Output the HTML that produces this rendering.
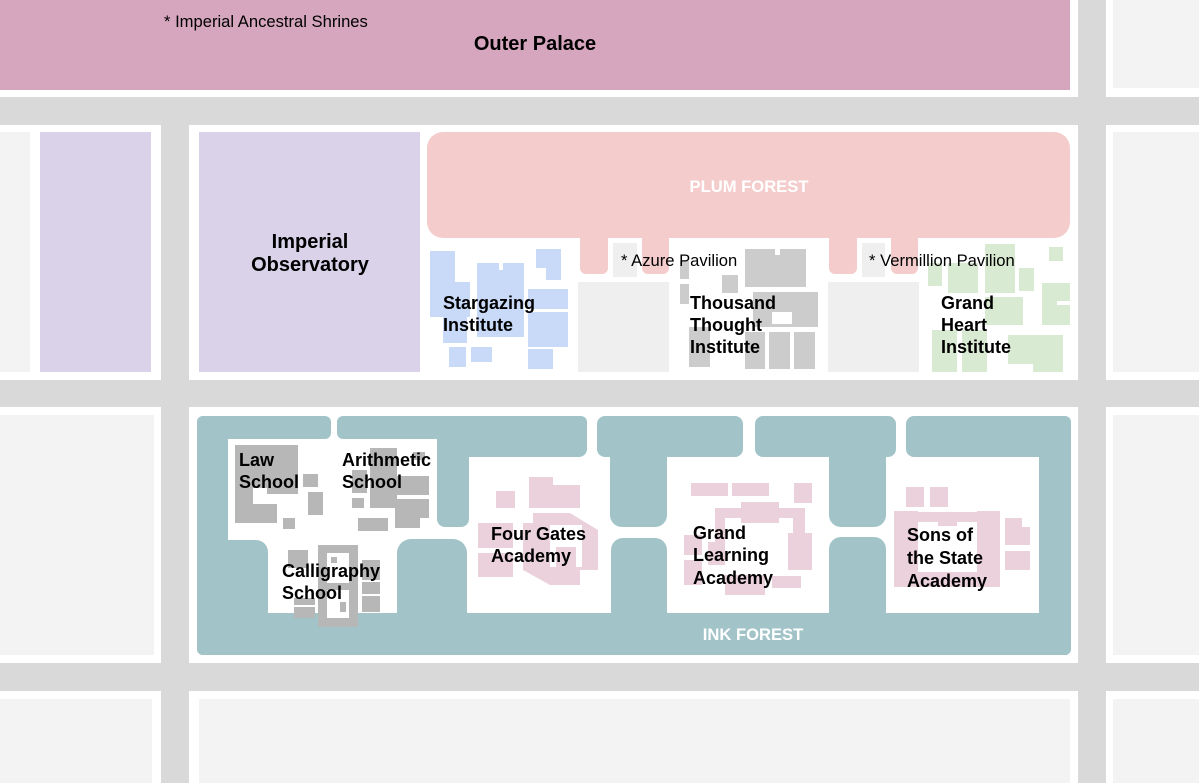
<!DOCTYPE html>
<html><head><meta charset="utf-8"><style>
html,body{margin:0;padding:0;background:#fff;}
svg{display:block;}
text{font-family:"Liberation Sans",Arial,sans-serif;}
.b{font-weight:bold;font-size:18px;fill:#000;}
</style></head><body>
<svg width="1199" height="783" viewBox="0 0 1199 783" xmlns="http://www.w3.org/2000/svg">
<rect x="0" y="0" width="1199" height="783" fill="#fff"/>
<!-- roads -->
<g fill="#d9d9d9">
<rect x="0" y="97" width="1199" height="28"/>
<rect x="0" y="380" width="1199" height="27"/>
<rect x="0" y="663" width="1199" height="28"/>
<rect x="161" y="97" width="28" height="686"/>
<rect x="1078" y="0" width="28" height="783"/>
</g>
<!-- outer gray blocks -->
<g fill="#f3f3f3">
<rect x="1113" y="0" width="86" height="88"/>
<rect x="0" y="132" width="30" height="240"/>
<rect x="1113" y="132" width="86" height="240"/>
<rect x="0" y="415" width="154" height="240"/>
<rect x="1113" y="415" width="86" height="240"/>
<rect x="0" y="699" width="152" height="84"/>
<rect x="199" y="699" width="871" height="84"/>
<rect x="1113" y="699" width="86" height="84"/>
</g>
<!-- outer palace -->
<rect x="0" y="0" width="1070" height="90" fill="#d5a6bd"/>
<!-- lavender -->
<rect x="40" y="132" width="111" height="240" fill="#d9d2e9"/>
<rect x="199" y="132" width="221" height="240" fill="#d9d2e9"/>
<!-- plum forest -->
<g fill="#f4cccc">
<rect x="427" y="132" width="643" height="106" rx="16"/>
<rect x="580" y="225" width="28" height="49" rx="6"/>
<rect x="642" y="225" width="27" height="49" rx="6"/>
<rect x="829" y="225" width="28" height="49" rx="6"/>
<rect x="891" y="225" width="27" height="49" rx="6"/>
</g>
<g fill="#efefef">
<rect x="613" y="243" width="24" height="34"/>
<rect x="862" y="243" width="23" height="34"/>
<rect x="578" y="282" width="91" height="90"/>
<rect x="828" y="282" width="91" height="90"/>
</g>
<!-- stargazing -->
<g fill="#c9daf8">
<rect x="430" y="251" width="25" height="66"/>
<rect x="430" y="282" width="40" height="35"/>
<rect x="443" y="317" width="24" height="26"/>
<rect x="477" y="263" width="47" height="74"/>
<rect x="536" y="249" width="25" height="19"/>
<rect x="546" y="249" width="15" height="31"/>
<rect x="528" y="289" width="40" height="20"/>
<rect x="528" y="312" width="40" height="35"/>
<rect x="528" y="349" width="25" height="20"/>
<rect x="449" y="347" width="17" height="20"/>
<rect x="471" y="347" width="21" height="15"/>
</g>
<rect x="499" y="263" width="4" height="7" fill="#fff"/>
<!-- thousand thought -->
<g fill="#cccccc">
<rect x="680" y="261" width="9" height="18"/>
<rect x="680" y="284" width="9" height="20"/>
<rect x="689" y="327" width="21" height="40"/>
<rect x="722" y="275" width="16" height="18"/>
<rect x="745" y="249" width="61" height="38"/>
<rect x="753" y="292" width="65" height="35"/>
<rect x="745" y="332" width="20" height="37"/>
<rect x="769" y="332" width="21" height="37"/>
<rect x="794" y="332" width="21" height="37"/>
</g>
<rect x="775" y="249" width="5" height="6" fill="#fff"/>
<rect x="772" y="312" width="20" height="12" fill="#fff"/>
<!-- grand heart -->
<g fill="#d9ead3">
<rect x="928" y="263" width="14" height="23"/>
<rect x="948" y="263" width="30" height="30"/>
<rect x="985" y="244" width="30" height="49"/>
<rect x="985" y="297" width="38" height="28"/>
<rect x="1019" y="268" width="15" height="23"/>
<rect x="1049" y="247" width="14" height="14"/>
<rect x="1042" y="283" width="28" height="42"/>
<rect x="932" y="330" width="25" height="42"/>
<rect x="962" y="330" width="25" height="42"/>
<rect x="1008" y="335" width="55" height="37"/>
</g>
<rect x="1057" y="301" width="13" height="4" fill="#fff"/>
<rect x="1008" y="364" width="25" height="8" fill="#fff"/>
<!-- ink forest -->
<g fill="#a2c4c9">
<rect x="197" y="416" width="31" height="239" rx="6"/>
<rect x="197" y="613" width="874" height="42" rx="6"/>
<rect x="197" y="416" width="134" height="23" rx="6"/>
<rect x="197" y="540" width="71" height="115" rx="12"/>
<rect x="397" y="539" width="70" height="116" rx="14"/>
<rect x="337" y="416" width="250" height="23" rx="6"/>
<rect x="437" y="416" width="150" height="41" rx="8"/>
<rect x="437" y="416" width="32" height="111" rx="8"/>
<rect x="597" y="416" width="146" height="41" rx="8"/>
<rect x="610" y="416" width="57" height="111" rx="12"/>
<rect x="611" y="538" width="56" height="117" rx="12"/>
<rect x="755" y="416" width="141" height="41" rx="8"/>
<rect x="829" y="416" width="57" height="111" rx="12"/>
<rect x="829" y="537" width="57" height="118" rx="12"/>
<rect x="906" y="416" width="165" height="41" rx="8"/>
<rect x="1039" y="416" width="32" height="239" rx="6"/>
</g>
<!-- law -->
<g fill="#b7b7b7">
<rect x="235" y="445" width="32" height="43"/>
<rect x="267" y="445" width="31" height="49"/>
<rect x="235" y="488" width="18" height="35"/>
<rect x="235" y="504" width="42" height="19"/>
<rect x="303" y="474" width="15" height="13"/>
<rect x="308" y="492" width="15" height="23"/>
<rect x="283" y="518" width="12" height="11"/>
<!-- arithmetic -->
<rect x="370" y="448" width="27" height="60"/>
<rect x="352" y="470" width="15" height="23"/>
<rect x="352" y="498" width="12" height="10"/>
<rect x="413" y="452" width="12" height="8"/>
<rect x="395" y="476" width="34" height="19"/>
<rect x="395" y="499" width="34" height="19"/>
<rect x="395" y="518" width="25" height="10"/>
<rect x="358" y="518" width="30" height="13"/>
<!-- calligraphy -->
<rect x="288" y="550" width="20" height="18"/>
<rect x="318" y="545" width="40" height="82"/>
<rect x="362" y="560" width="18" height="20"/>
<rect x="362" y="582" width="18" height="12"/>
<rect x="362" y="596" width="18" height="16"/>
<rect x="294" y="598" width="21" height="7"/>
<rect x="294" y="607" width="21" height="11"/>
</g>
<g fill="#fff">
<rect x="327" y="553" width="22" height="30"/>
<rect x="327" y="590" width="22" height="28"/>
</g>
<g fill="#b7b7b7">
<rect x="331" y="557" width="6" height="6"/>
<rect x="340" y="602" width="6" height="10"/>
</g>
<!-- four gates -->
<g fill="#ead1dc">
<rect x="496" y="491" width="19" height="17"/>
<rect x="529" y="477" width="24" height="31"/>
<rect x="553" y="485" width="27" height="23"/>
<rect x="478" y="523" width="35" height="25"/>
<rect x="478" y="553" width="35" height="24"/>
<polygon points="533,513 570,513 598,530 598,570 580,570 580,585 550,585 523,570 523,523 533,523"/>
</g>
<rect x="550" y="525" width="32" height="42" fill="#fff"/>
<rect x="556" y="547" width="20" height="20" fill="#ead1dc"/>
<!-- grand learning -->
<g fill="#ead1dc">
<rect x="691" y="483" width="37" height="13"/>
<rect x="732" y="483" width="37" height="13"/>
<rect x="794" y="483" width="18" height="20"/>
<rect x="741" y="502" width="38" height="21"/>
<rect x="715" y="508" width="90" height="10"/>
<rect x="715" y="508" width="10" height="54"/>
<rect x="793" y="508" width="12" height="25"/>
<rect x="788" y="533" width="24" height="37"/>
<rect x="684" y="535" width="18" height="20"/>
<rect x="684" y="560" width="18" height="25"/>
<rect x="708" y="542" width="17" height="23"/>
<rect x="725" y="575" width="40" height="20"/>
<rect x="772" y="576" width="29" height="12"/>
</g>
<!-- sons of state -->
<g fill="#ead1dc">
<rect x="906" y="487" width="18" height="20"/>
<rect x="930" y="487" width="18" height="20"/>
<rect x="894" y="511" width="24" height="76"/>
<rect x="977" y="511" width="23" height="76"/>
<rect x="918" y="512" width="59" height="10"/>
<rect x="938" y="512" width="19" height="14"/>
<rect x="918" y="572" width="59" height="15"/>
<rect x="1005" y="518" width="17" height="10"/>
<rect x="1005" y="527" width="25" height="18"/>
<rect x="1005" y="551" width="25" height="19"/>
</g>
<!-- labels -->
<text x="164" y="27" font-size="16.6" fill="#000">* Imperial Ancestral Shrines</text>
<text x="535" y="50" font-size="20" font-weight="bold" fill="#000" text-anchor="middle">Outer Palace</text>
<text x="310" y="248" font-size="20" font-weight="bold" fill="#000" text-anchor="middle">Imperial</text>
<text x="310" y="271" font-size="20" font-weight="bold" fill="#000" text-anchor="middle">Observatory</text>
<text x="749" y="192" font-size="16.6" font-weight="bold" fill="#fff" text-anchor="middle">PLUM FOREST</text>
<text x="621" y="266" font-size="16.6" fill="#000">* Azure Pavilion</text>
<text x="869" y="266" font-size="16.6" fill="#000">* Vermillion Pavilion</text>
<text class="b" x="443" y="309">Stargazing</text>
<text class="b" x="443" y="331">Institute</text>
<text class="b" x="690" y="309">Thousand</text>
<text class="b" x="690" y="331">Thought</text>
<text class="b" x="690" y="353">Institute</text>
<text class="b" x="941" y="309">Grand</text>
<text class="b" x="941" y="331">Heart</text>
<text class="b" x="941" y="353">Institute</text>
<text class="b" x="239" y="466">Law</text>
<text class="b" x="239" y="488">School</text>
<text class="b" x="342" y="466">Arithmetic</text>
<text class="b" x="342" y="488">School</text>
<text class="b" x="282" y="577">Calligraphy</text>
<text class="b" x="282" y="599">School</text>
<text class="b" x="491" y="540">Four Gates</text>
<text class="b" x="491" y="562">Academy</text>
<text class="b" x="693" y="539">Grand</text>
<text class="b" x="693" y="561">Learning</text>
<text class="b" x="693" y="584">Academy</text>
<text class="b" x="907" y="541">Sons of</text>
<text class="b" x="907" y="564">the State</text>
<text class="b" x="907" y="587">Academy</text>
<text x="753" y="640" font-size="16.6" font-weight="bold" fill="#fff" text-anchor="middle">INK FOREST</text>
</svg>
</body></html>
